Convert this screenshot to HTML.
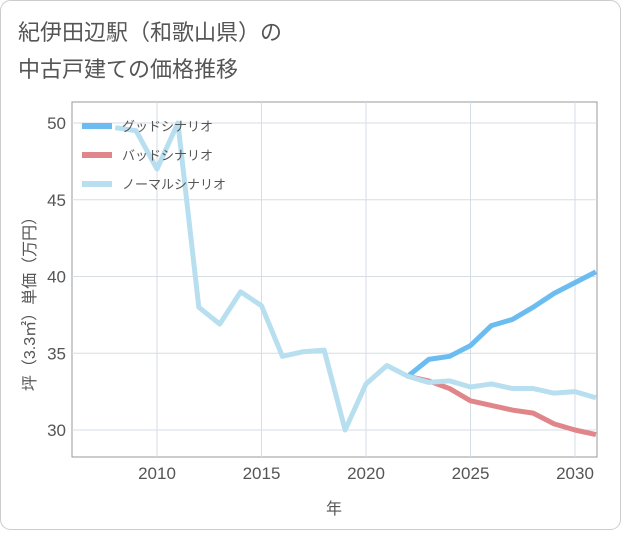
<!DOCTYPE html>
<html><head><meta charset="utf-8"><style>
body{margin:0;background:#fff;}
#wrap{position:relative;width:621px;height:530px;}
svg text{font-family:"Liberation Sans","Noto Sans CJK JP",sans-serif;}
</style></head><body>
<div id="wrap">
<svg id="chart" width="621" height="530">
<rect x="0.5" y="0.5" width="620" height="529" rx="10" fill="#fff" stroke="#ccc"/>
<text x="18" y="40" font-size="22" fill="#555">紀伊田辺駅（和歌山県）の</text>
<text x="18" y="77" font-size="22" fill="#555">中古戸建ての価格推移</text>
<g id="grid"></g>
<g id="lines"></g>
<g id="legend"></g>
<text transform="translate(35,300) rotate(-90)" text-anchor="middle" font-size="16" fill="#555">坪（3.3㎡）単価（万円）</text>
<text x="334" y="514" text-anchor="middle" font-size="16" fill="#555">年</text>
</svg></div>
<script>
const years=[2008,2009,2010,2011,2012,2013,2014,2015,2016,2017,2018,2019,2020,2021,2022,2023,2024,2025,2026,2027,2028,2029,2030,2031];
const normal=[49.7,49.5,47,50,38,36.9,39,38.1,34.8,35.1,35.2,30,33,34.2,33.5,33.1,33.2,32.8,33,32.7,32.7,32.4,32.5,32.1];
const goodYears=[2022,2023,2024,2025,2026,2027,2028,2029,2030,2031];
const good=[33.5,34.6,34.8,35.5,36.8,37.2,38,38.9,39.6,40.3];
const bad=[33.5,33.2,32.7,31.9,31.6,31.3,31.1,30.4,30,29.7];
const xTicks=[2010,2015,2020,2025,2030];
const yTicks=[30,35,40,45,50];
const L=72,R=597,T=102,B=457;
const x=v=>157+(v-2010)*20.9;
const y=v=>430-(v-30)*15.35;
const NS="http://www.w3.org/2000/svg";
function mk(t,a,p){const e=document.createElementNS(NS,t);for(const k in a)e.setAttribute(k,a[k]);p.appendChild(e);return e;}
const g=document.getElementById('grid');
const bg=mk('rect',{x:L,y:T,width:R-L,height:B-T,fill:'#fff',stroke:'#999'},g);

xTicks.forEach(t=>{const l=mk('line',{x1:x(t),x2:x(t),y1:T,y2:B,stroke:'#d5dde5'},g);

const tx=mk('text',{x:x(t),y:B+22,'text-anchor':'middle','font-size':17,fill:'#555'},g);tx.textContent=t;
});
yTicks.forEach(t=>{const l=mk('line',{x1:L,x2:R,y1:y(t),y2:y(t),stroke:'#d5dde5'},g);

const tx=mk('text',{x:L-6,y:y(t)+6,'text-anchor':'end','font-size':17,fill:'#555'},g);tx.textContent=t;
});
const lg=document.getElementById('lines');
function series(xs,vs,c,name){const p=mk('polyline',{points:xs.map((v,i)=>x(v)+','+y(vs[i])).join(' '),fill:'none',stroke:c,'stroke-width':5,'stroke-linejoin':'round'},lg);
}
const cp=mk('clipPath',{id:'cp'},lg);mk('rect',{x:L,y:T,width:R-L,height:B-T},cp);lg.setAttribute('clip-path','url(#cp)');
series(goodYears,bad,'#e0868b','bad-scenario-line');
series(goodYears,good,'#6bbcf0','good-scenario-line');
series(years,normal,'#b8dff0','normal-scenario-line');
const leg=document.getElementById('legend');
[['グッドシナリオ','#6bbcf0'],['バッドシナリオ','#e0868b'],['ノーマルシナリオ','#b8dff0']].forEach((d,i)=>{
const yy=126+i*29;
const s=mk('line',{x1:82,x2:112,y1:yy,y2:yy,stroke:d[1],'stroke-width':6},leg);

const t=mk('text',{x:122,y:yy+5,'font-size':13,fill:'#555'},leg);t.textContent=d[0];
});
</script></body></html>
